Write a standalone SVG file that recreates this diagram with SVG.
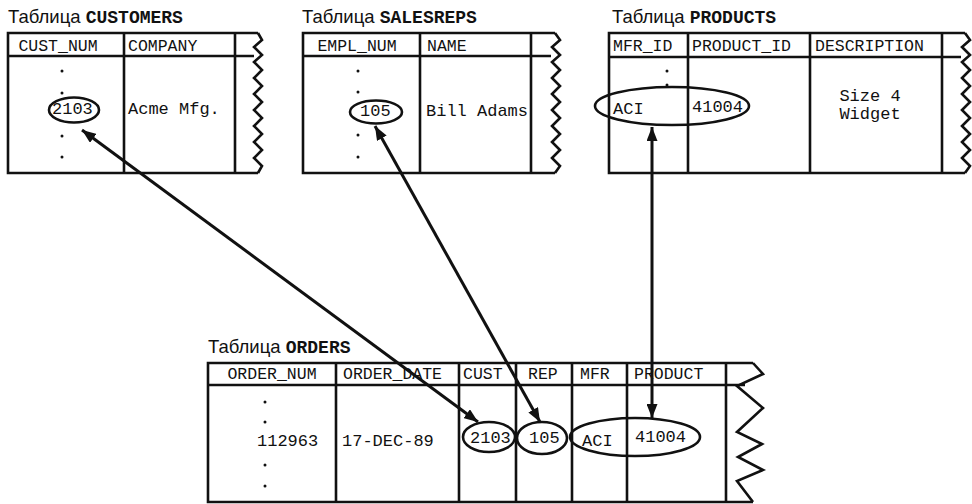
<svg xmlns="http://www.w3.org/2000/svg" width="972" height="504" viewBox="0 0 972 504">
<style>
.t{font-family:"Liberation Sans",Arial,sans-serif;font-size:18.5px;fill:#111}
.tb{font-family:"Liberation Mono","Courier New",monospace;font-size:18px;font-weight:bold;fill:#111}
.h{font-family:"Liberation Mono","Courier New",monospace;font-size:16.5px;fill:#111}
.d{font-family:"Liberation Mono","Courier New",monospace;font-size:17px;fill:#111}
.g{fill:none;stroke:#111;stroke-width:2.6;stroke-linejoin:miter}
.o{fill:none;stroke:#111;stroke-width:2.6}
.c{stroke:#111;stroke-width:3;fill:none}
.dot{fill:#111}
</style>
<defs>
<marker id="ah" viewBox="0 0 14 11" refX="14" refY="5.5" markerWidth="14" markerHeight="11" markerUnits="userSpaceOnUse" orient="auto-start-reverse">
<path d="M0,0 L14,5.5 L0,11 Z" fill="#111"/>
</marker>
</defs>

<g id="customers">
<text x="8" y="23" class="t">Таблица <tspan class="tb">CUSTOMERS</tspan></text>
<path class="g" d="M258,33 H8 V173 H258"/>
<path class="g" d="M8,56 H254"/>
<path class="g" d="M124,33 V173 M235,33 V173"/>
<path class="g" d="M258,33 L262,40 L254,47 L262,55 L254,62 L262,70 L254,78 L262,86 L254,94 L262,102 L254,110 L262,118 L254,126 L262,134 L254,142 L262,150 L254,158 L262,166 L258,173"/>
<text x="58" y="51" class="h" text-anchor="middle">CUST_NUM</text>
<text x="128" y="51" class="h">COMPANY</text>
<circle class="dot" cx="62" cy="71" r="1.5"/>
<circle class="dot" cx="62" cy="93" r="1.5"/>
<circle class="dot" cx="62" cy="136" r="1.5"/>
<circle class="dot" cx="62" cy="157" r="1.5"/>
<text x="52" y="114" class="d">2103</text>
<ellipse class="o" cx="74" cy="110" rx="25" ry="12.5"/>
<text x="128" y="114" class="d">Acme Mfg.</text>
</g>

<g id="salesreps">
<text x="302" y="23" class="t">Таблица <tspan class="tb">SALESREPS</tspan></text>
<path class="g" d="M555,33 H303 V173 H555"/>
<path class="g" d="M303,56 H551"/>
<path class="g" d="M420,33 V173 M531,33 V173"/>
<path class="g" d="M555,33 L560,40 L552,47 L560,55 L552,62 L560,70 L552,78 L560,86 L552,94 L560,102 L552,110 L560,118 L552,126 L560,134 L552,142 L560,150 L552,158 L560,166 L555,173"/>
<text x="357" y="51" class="h" text-anchor="middle">EMPL_NUM</text>
<text x="427" y="51" class="h">NAME</text>
<circle class="dot" cx="358" cy="71" r="1.5"/>
<circle class="dot" cx="358" cy="92" r="1.5"/>
<circle class="dot" cx="358" cy="135" r="1.5"/>
<circle class="dot" cx="358" cy="157" r="1.5"/>
<text x="360" y="116" class="d">105</text>
<ellipse class="o" cx="376" cy="112" rx="26" ry="11.5"/>
<text x="426" y="116" class="d">Bill Adams</text>
</g>

<g id="products">
<text x="612" y="23" class="t">Таблица <tspan class="tb">PRODUCTS</tspan></text>
<path class="g" d="M965,33 H609 V173 H965"/>
<path class="g" d="M609,57 H961"/>
<path class="g" d="M688,33 V173 M810,33 V173 M942,33 V173"/>
<path class="g" d="M965,33 L970,40 L962,47 L970,55 L962,62 L970,70 L962,78 L970,86 L962,94 L970,102 L962,110 L970,118 L962,126 L970,134 L962,142 L970,150 L962,158 L970,166 L965,173"/>
<text x="613" y="51" class="h">MFR_ID</text>
<text x="692" y="51" class="h">PRODUCT_ID</text>
<text x="815" y="51" class="h">DESCRIPTION</text>
<circle class="dot" cx="667" cy="71" r="1.5"/>
<circle class="dot" cx="667" cy="85" r="1.5"/>
<text x="613" y="114" class="d">ACI</text>
<text x="692" y="112" class="d">41004</text>
<ellipse class="o" cx="672" cy="106" rx="77" ry="19"/>
<text x="870" y="101" class="d" text-anchor="middle">Size 4</text>
<text x="870" y="119" class="d" text-anchor="middle">Widget</text>
</g>

<g id="orders">
<text x="208" y="353" class="t">Таблица <tspan class="tb">ORDERS</tspan></text>
<path class="g" d="M753,363 H208 V502 H753"/>
<path class="g" d="M208,385 H745"/>
<path class="g" d="M336,363 V502 M459,363 V502 M516,363 V502 M572,363 V502 M627,363 V502 M726,363 V502"/>
<path class="g" d="M753,363 L763,374 L737,386 L763,408 L737,432 L762,444 L738,457 L763,470 L737,481 L753,502"/>
<text x="272" y="379" class="h" text-anchor="middle">ORDER_NUM</text>
<text x="343" y="379" class="h">ORDER_DATE</text>
<text x="463" y="379" class="h">CUST</text>
<text x="528" y="379" class="h">REP</text>
<text x="580" y="379" class="h">MFR</text>
<text x="634" y="379" class="h">PRODUCT</text>
<circle class="dot" cx="265" cy="402" r="1.5"/>
<circle class="dot" cx="265" cy="422" r="1.5"/>
<circle class="dot" cx="265" cy="465" r="1.5"/>
<circle class="dot" cx="265" cy="486" r="1.5"/>
<text x="257" y="446" class="d">112963</text>
<text x="342" y="446" class="d">17-DEC-89</text>
<text x="470" y="443" class="d">2103</text>
<ellipse class="o" cx="489" cy="437" rx="26" ry="15"/>
<text x="529" y="443" class="d">105</text>
<ellipse class="o" cx="542" cy="438" rx="25" ry="16"/>
<text x="582" y="446" class="d">ACI</text>
<text x="635" y="442" class="d">41004</text>
<ellipse class="o" cx="635" cy="437" rx="65" ry="19"/>
</g>

<g id="connectors">
<line class="c" x1="82" y1="130" x2="478" y2="422" marker-start="url(#ah)" marker-end="url(#ah)"/>
<line class="c" x1="375" y1="126" x2="540" y2="422" marker-start="url(#ah)" marker-end="url(#ah)"/>
<line class="c" x1="652" y1="127" x2="652" y2="418" marker-start="url(#ah)" marker-end="url(#ah)"/>
</g>
</svg>
